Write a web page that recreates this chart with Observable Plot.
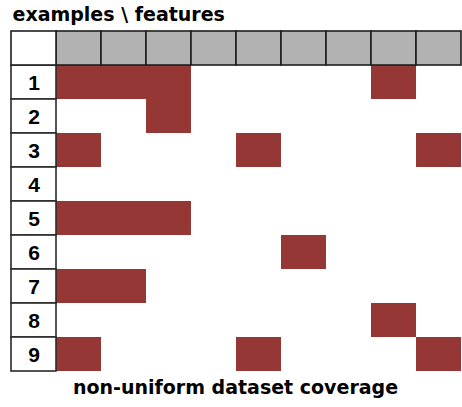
<!DOCTYPE html>
<html>
<head>
<meta charset="utf-8">
<script src="https://cdn.jsdelivr.net/npm/d3@7"></script>
<script src="https://cdn.jsdelivr.net/npm/@observablehq/plot@0.6"></script>
<style>
  html, body { margin: 0; padding: 0; background: #fff; }
</style>
</head>
<body>
<div id="chart"></div>
<script>
const titleText = "examples \\ features";
const captionText = "non-uniform dataset coverage";
const features = ["f1", "f2", "f3", "f4", "f5", "f6", "f7", "f8", "f9"];
const examples = ["1", "2", "3", "4", "5", "6", "7", "8", "9"];
// coverage per example (1 = example has this feature)
const row1 = [1, 1, 1, 0, 0, 0, 0, 1, 0];
const row2 = [0, 0, 1, 0, 0, 0, 0, 0, 0];
const row3 = [1, 0, 0, 0, 1, 0, 0, 0, 1];
const row4 = [0, 0, 0, 0, 0, 0, 0, 0, 0];
const row5 = [1, 1, 1, 0, 0, 0, 0, 0, 0];
const row6 = [0, 0, 0, 0, 0, 1, 0, 0, 0];
const row7 = [1, 1, 0, 0, 0, 0, 0, 0, 0];
const row8 = [0, 0, 0, 0, 0, 0, 0, 1, 0];
const row9 = [1, 0, 0, 0, 1, 0, 0, 0, 1];

const rows = [row1, row2, row3, row4, row5, row6, row7, row8, row9];
const filled = [];
rows.forEach((r, i) => r.forEach((v, j) => { if (v) filled.push({example: examples[i], feature: features[j]}); }));

const font = "'Liberation Sans', Arial, sans-serif";
const headFont = "'DejaVu Sans', sans-serif";

const chart = Plot.plot({
  width: 462,
  height: 407,
  marginTop: 28,
  marginBottom: 34,
  marginLeft: 8,
  marginRight: 0,
  style: {fontFamily: font, background: "#fff", overflow: "hidden"},
  x: {domain: ["label", ...features], range: [8, 464], padding: 0, axis: null},
  y: {domain: ["header", ...examples], range: [28, 373], padding: 0, axis: null},
  marks: [
    Plot.cell(filled, {x: "feature", y: "example", fill: "#953735"}),
    Plot.cell(features, {x: d => d, y: () => "header", fill: "#b2b2b2", stroke: "#1e1e1e", strokeWidth: 1.6}),
    Plot.cell(examples, {x: () => "label", y: d => d, fill: "#fff", stroke: "#2a2a2a", strokeWidth: 1.6}),
    Plot.cell(["corner"], {x: () => "label", y: () => "header", fill: "#fff", stroke: "#1e1e1e", strokeWidth: 1.6}),
    Plot.text(examples, {x: () => "label", y: d => d, text: d => d, fontSize: 21, fontWeight: "bold", fill: "#000", dy: 1}),
    Plot.text([titleText], {frameAnchor: "top-left", dx: 4, dy: -8, text: d => d, textAnchor: "start", lineAnchor: "bottom", fontSize: 19, fontFamily: headFont, fontWeight: "bold", fill: "#000"}),
    Plot.text([captionText], {frameAnchor: "bottom", dx: 0, dy: 20, text: d => d, lineAnchor: "bottom", fontSize: 19, fontFamily: headFont, fontWeight: "bold", fill: "#000"})
  ]
});
document.getElementById("chart").appendChild(chart);
</script>
</body>
</html>
